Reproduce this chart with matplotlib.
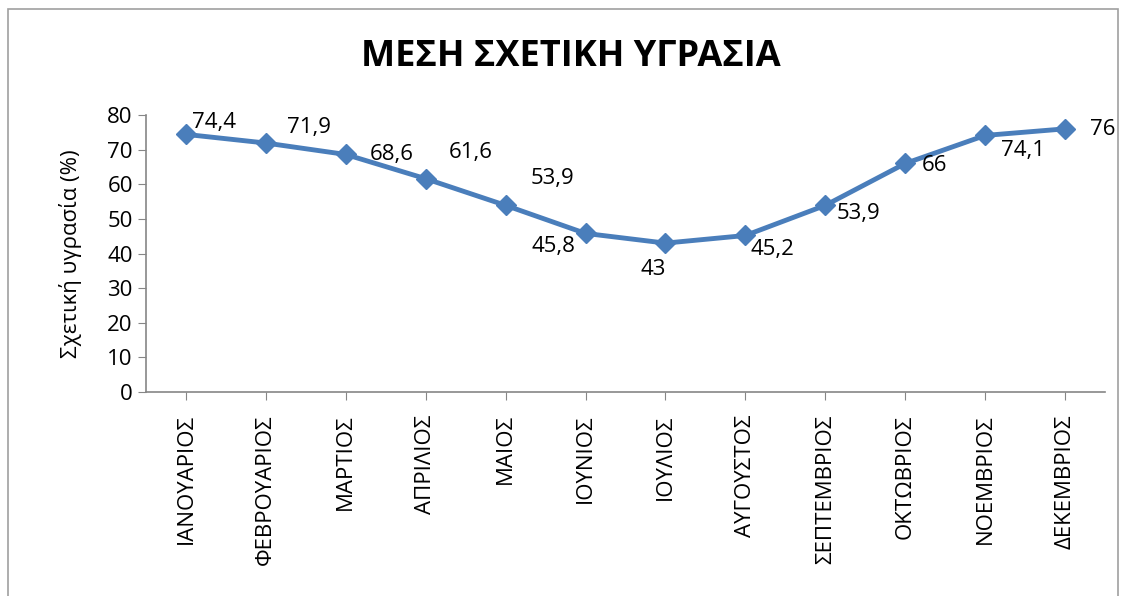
import matplotlib.pyplot as plt
from matplotlib.patches import Rectangle

months = ["ΙΑΝΟΥΑΡΙΟΣ", "ΦΕΒΡΟΥΑΡΙΟΣ", "ΜΑΡΤΙΟΣ", "ΑΠΡΙΛΙΟΣ", "ΜΑΙΟΣ", "ΙΟΥΝΙΟΣ",
          "ΙΟΥΛΙΟΣ", "ΑΥΓΟΥΣΤΟΣ", "ΣΕΠΤΕΜΒΡΙΟΣ", "ΟΚΤΩΒΡΙΟΣ", "ΝΟΕΜΒΡΙΟΣ", "ΔΕΚΕΜΒΡΙΟΣ"]
humidity = [74.4, 71.9, 68.6, 61.6, 53.9, 45.8, 43, 45.2, 53.9, 66, 74.1, 76]

# label offsets in pixels (dx, dy, ha)
offsets = [(6, 12, 'left'), (21, 16, 'left'), (24, 0, 'left'), (23, 26, 'left'),
           (25, 27, 'left'), (-10, -13, 'right'), (-12, -26, 'center'), (5, -14, 'left'),
           (11, -8, 'left'), (17, -2, 'left'), (16, -15, 'left'), (25, -1, 'left')]

plt.rcParams['font.family'] = ['Open Sans', 'DejaVu Sans']
grey = '#868686'
fs = 16

fig = plt.figure(figsize=(11.27, 5.96), dpi=100)
fig.patches.append(Rectangle((8 / 1127, -0.05), 1110 / 1127, 1.05 - 9 / 596,
                             transform=fig.transFigure, fill=False,
                             edgecolor='#a0a0a0', linewidth=1.2))

ax = fig.add_axes([146 / 1127, 1 - 392 / 596, 959 / 1127, 277 / 596])
x = list(range(len(months)))
ax.plot(x, humidity, color='#4a7ebb', linewidth=3.5, marker='D', markersize=10,
        markeredgecolor='#4a7ebb', zorder=3)

for i, v in enumerate(humidity):
    dx, dy, ha = offsets[i]
    txt = ('%g' % v).replace('.', ',')
    ax.annotate(txt, (i, v), xytext=(dx, dy), textcoords='offset pixels',
                ha=ha, va='center', fontsize=fs)

ax.set_xlim(-0.5, 11.5)
ax.set_ylim(0, 80)
ax.set_yticks(range(0, 81, 10))
ax.set_xticks(x)
ax.set_xticklabels(months, rotation=90, fontsize=fs)
ax.tick_params(axis='y', labelsize=fs, length=6, color=grey, direction='out')
ax.tick_params(axis='x', length=6, color=grey, direction='out', pad=10)
for s in ['top', 'right']:
    ax.spines[s].set_visible(False)
for s in ['left', 'bottom']:
    ax.spines[s].set_color(grey)
    ax.spines[s].set_linewidth(1.2)

ax.set_ylabel('Σχετική υγρασία (%)', fontsize=fs, labelpad=18)
fig.text(571 / 1127, 1 - 57 / 596, 'ΜΕΣΗ ΣΧΕΤΙΚΗ ΥΓΡΑΣΙΑ', ha='center', va='center',
         fontsize=26, fontweight='bold')

fig.savefig('out.png', dpi=100)
